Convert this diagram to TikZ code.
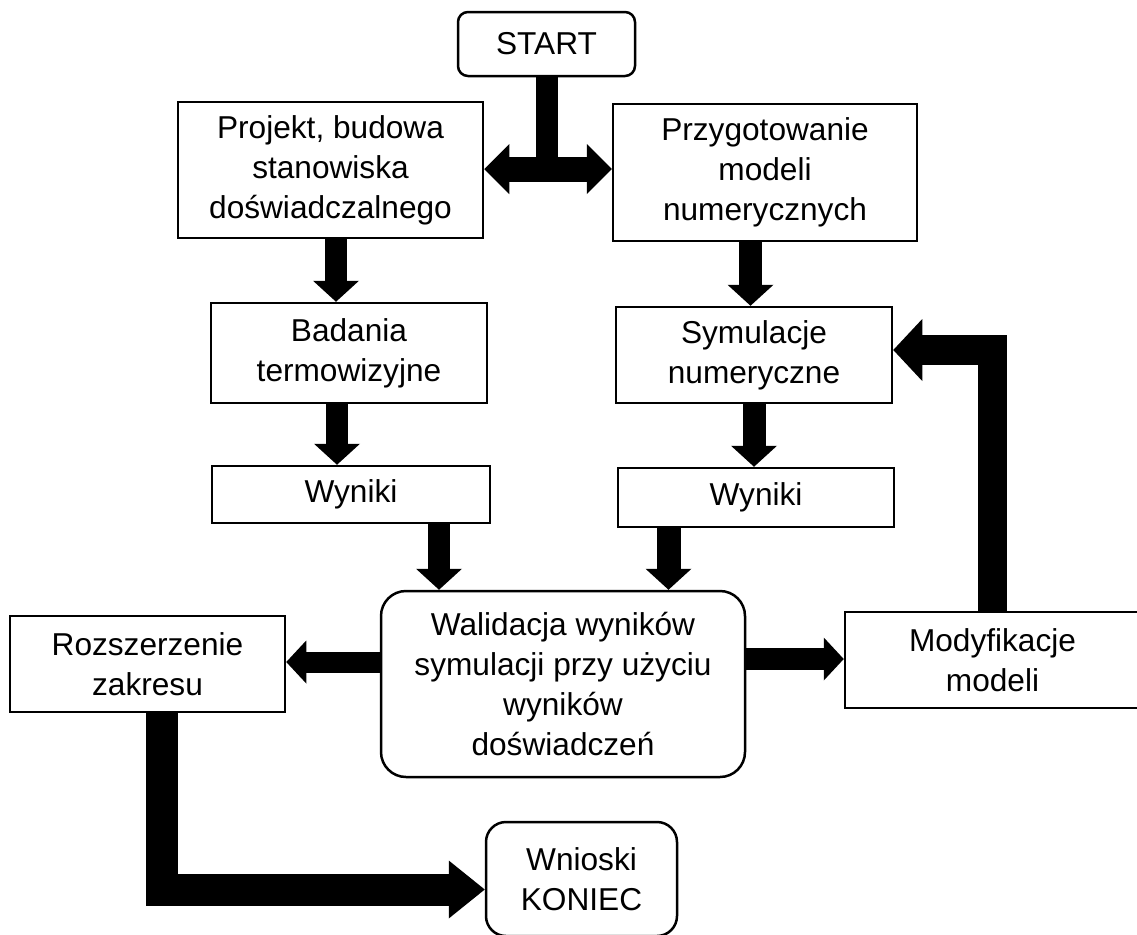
\documentclass[tikz,border=0pt]{standalone}
\usepackage{fontspec}
\setmainfont{Liberation Sans}
\usetikzlibrary{arrows.meta}

\begin{document}
\begin{tikzpicture}[x=1cm,y=1cm,
    box/.style={draw, line width=0.05cm, align=center, inner sep=0pt,
        font=\fontsize{18}{22.8}\selectfont},
    blk/.style={line width=#1, line join=miter},
    vhead/.style={-{Triangle[width=0.92cm, length=0.42cm, line width=0pt]}}]
    \useasboundingbox (0,0) rectangle (22.74,-18.70);

    \node[box, rounded corners=0.2cm, minimum width=3.54cm, minimum height=1.28cm] (start) at (10.93,-0.88) {START};
    \node[box, minimum width=6.10cm, minimum height=2.72cm] (projekt) at (6.61,-3.40) {Projekt, budowa\\stanowiska\\doświadczalnego};
    \node[box, minimum width=6.08cm, minimum height=2.74cm] (przyg) at (15.30,-3.45) {Przygotowanie\\modeli\\numerycznych};
    \node[box, minimum width=5.52cm, minimum height=2.00cm] (badania) at (6.98,-7.06) {Badania\\termowizyjne};
    \node[box, minimum width=5.52cm, minimum height=1.92cm] (symul) at (15.08,-7.10) {Symulacje\\numeryczne};
    \node[box, minimum width=5.56cm, minimum height=1.14cm] (wynikiL) at (7.02,-9.89) {Wyniki};
    \node[box, minimum width=5.52cm, minimum height=1.18cm] (wynikiR) at (15.12,-9.95) {Wyniki};
    \node[box, rounded corners=0.5cm, minimum width=7.28cm, minimum height=3.72cm] (walid) at (11.26,-13.68) {Walidacja wyników\\symulacji przy użyciu\\wyników\\doświadczeń};
    \node[box, minimum width=5.50cm, minimum height=1.92cm] (rozsz) at (2.95,-13.28) {Rozszerzenie\\zakresu};
    \node[box, minimum width=5.90cm, minimum height=1.92cm] (modyf) at (19.85,-13.20) {Modyfikacje\\modeli};
    \node[box, rounded corners=0.4cm, minimum width=3.82cm, minimum height=2.28cm] (wnioski) at (11.63,-17.58) {Wnioski\\KONIEC};

    % start splits to both branches
    \coordinate (hub) at (10.94,-3.38);
    \draw[blk=0.44cm] (start.south) -- (start.south |- hub);
    \draw[blk=0.50cm, {Triangle[width=1.0cm, length=0.5cm, line width=0pt]}-{Triangle[width=1.0cm, length=0.5cm, line width=0pt]}]
        (hub -| projekt.east) -- (hub -| przyg.west);

    \draw[blk=0.44cm, vhead] ([xshift=0.11cm]projekt.south) -- ([xshift=0.11cm]projekt.south |- badania.north);
    \draw[blk=0.44cm, vhead] ([xshift=-0.24cm]badania.south) -- ([xshift=-0.24cm]badania.south |- wynikiL.north);
    \draw[blk=0.46cm, vhead] ([xshift=-0.29cm]przyg.south) -- ([xshift=-0.29cm]przyg.south |- symul.north);
    \draw[blk=0.46cm, vhead] (symul.south) -- (symul.south |- wynikiR.north);
    \draw[blk=0.44cm, vhead] ([xshift=1.76cm]wynikiL.south) -- ([xshift=1.76cm]wynikiL.south |- walid.north);
    \draw[blk=0.48cm, vhead] ([xshift=-1.75cm]wynikiR.south) -- ([xshift=-1.75cm]wynikiR.south |- walid.north);

    \draw[blk=0.42cm, -{Triangle[width=0.86cm, length=0.40cm, line width=0pt]}]
        ([yshift=0.44cm]walid.west) -- ([yshift=0.44cm]walid.west -| rozsz.east);
    \draw[blk=0.44cm, -{Triangle[width=0.86cm, length=0.40cm, line width=0pt]}]
        ([yshift=0.50cm]walid.east) -- ([yshift=0.50cm]walid.east -| modyf.west);

    % loop back and way out
    \draw[blk=0.59cm, -{Triangle[width=1.24cm, length=0.58cm, line width=0pt]}]
        (modyf.north) |- ([yshift=0.1cm]symul.east);
    \draw[blk=0.64cm, -{Triangle[width=1.16cm, length=0.72cm, line width=0pt]}]
        ([xshift=0.28cm]rozsz.south) |- ([yshift=-0.21cm]wnioski.west);
\end{tikzpicture}
\end{document}
